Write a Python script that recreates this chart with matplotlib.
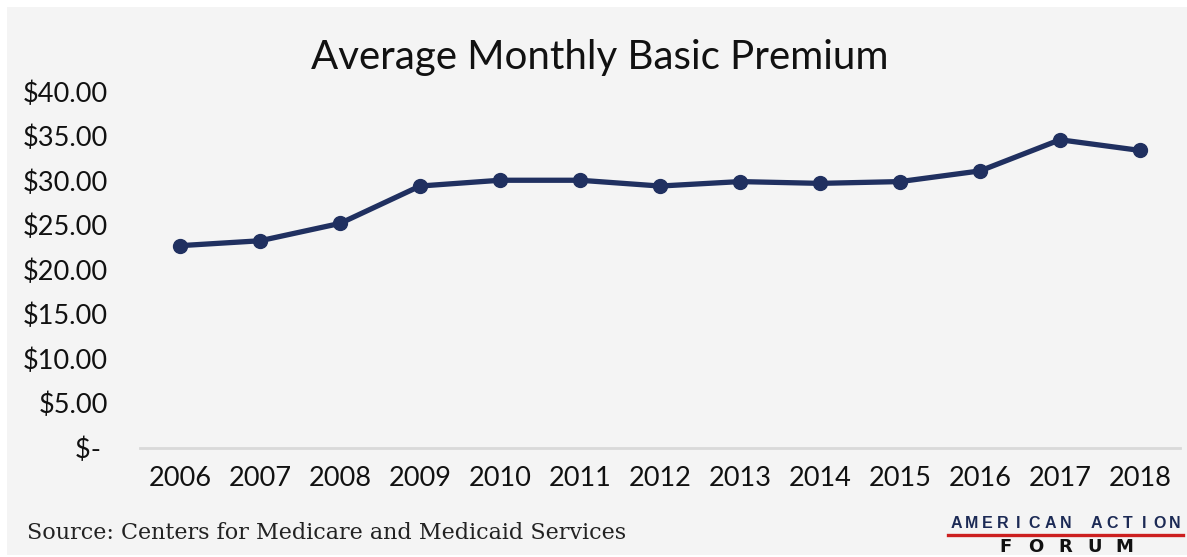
import matplotlib
matplotlib.use("Agg")
import matplotlib.pyplot as plt
from matplotlib.patches import Rectangle
from matplotlib.lines import Line2D

years = ["2006", "2007", "2008", "2009", "2010", "2011", "2012",
         "2013", "2014", "2015", "2016", "2017", "2018"]
premium = [22.7, 23.25, 25.2, 29.4, 30.05, 30.05, 29.4,
           29.9, 29.7, 29.9, 31.1, 34.6, 33.4]
yticks = [0, 5, 10, 15, 20, 25, 30, 35, 40]
ytick_labels = ["$- ", "$5.00", "$10.00", "$15.00", "$20.00",
                "$25.00", "$30.00", "$35.00", "$40.00"]

W, H = 1187, 557
fig = plt.figure(figsize=(W / 100, H / 100), dpi=100)
fig.patch.set_facecolor("white")

# gray panel
fig.patches.append(Rectangle((7 / W, 2 / H), (W - 7) / W, (H - 9) / H,
                             transform=fig.transFigure, facecolor="#f4f4f4",
                             edgecolor="none", zorder=-10))

ax = fig.add_axes([140 / W, (H - 447.7) / H, (1180 - 140) / W, (447.7 - 91.7) / H])
ax.set_facecolor("none")
ax.set_zorder(5)

navy = "#203060"
x = list(range(len(years)))
ax.plot(x, premium, color=navy, linewidth=3.8, marker="o", markersize=10,
        solid_capstyle="round", zorder=3, clip_on=False)

ax.set_xlim(-0.5, len(years) - 0.5)
ax.set_ylim(0, 40)
ax.set_yticks(yticks)
ax.set_yticklabels(ytick_labels)
ax.set_xticks(x)
ax.set_xticklabels(years)

for s in ["top", "right", "left"]:
    ax.spines[s].set_visible(False)
ax.spines["bottom"].set_color("#d9d9d9")
ax.spines["bottom"].set_linewidth(2)
ax.tick_params(axis="both", length=0, labelsize=19.5, labelcolor="#111111")
ax.tick_params(axis="y", pad=23)
ax.tick_params(axis="x", pad=13)
for lbl in ax.get_xticklabels() + ax.get_yticklabels():
    lbl.set_fontfamily("Lato")

fig.text(600 / W, 1 - 57 / H, "Average Monthly Basic Premium",
         ha="center", va="center", fontsize=29, family="Lato", color="#111111")

fig.text(27 / W, 1 - 533 / H, "Source: Centers for Medicare and Medicaid Services",
         ha="left", va="center", fontsize=16, family="DejaVu Serif",
         color="#222222")

# logo
logo_top = "AMERICAN ACTION"
x0, x1 = 956, 1175
step = (x1 - x0) / (len(logo_top) - 1)
for i, ch in enumerate(logo_top):
    fig.text((x0 + i * step) / W, 1 - 523 / H, ch, ha="center", va="center",
             fontsize=11.5, family="Liberation Sans", weight="bold", color="#1c2a55")
fig.lines.append(Line2D([948 / W, 1183 / W], [1 - 534.5 / H, 1 - 534.5 / H],
                        transform=fig.transFigure, color="#cc1f1f", linewidth=2.4))
for i, ch in enumerate("FORUM"):
    fig.text((1006 + i * 29.6) / W, 1 - 547 / H, ch, ha="center", va="center",
             fontsize=13, family="DejaVu Sans", weight="heavy", color="#111111")

fig.savefig("out.png", dpi=100, facecolor=fig.get_facecolor())
